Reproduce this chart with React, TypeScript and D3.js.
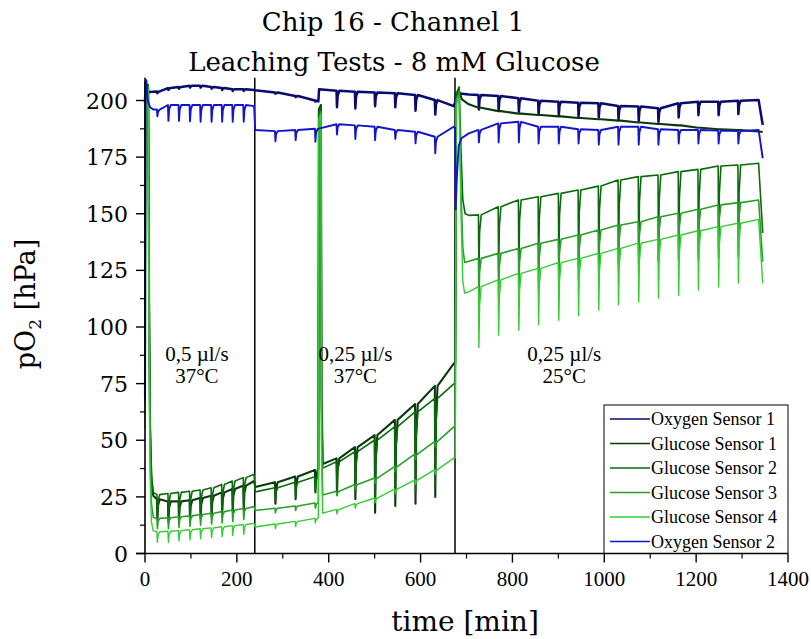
import React from 'react';
import * as d3 from 'd3';

// ---------- data ----------
const xTicks = [0, 200, 400, 600, 800, 1000, 1200, 1400];
const xMinorTicks = [100, 300, 500, 700, 900, 1100, 1300];
const yTicks = [0, 25, 50, 75, 100, 125, 150, 175, 200];
const yMinorTicks = [12.5, 37.5, 62.5, 87.5, 112.5, 137.5, 162.5, 187.5];
const segmentBoundaries = [239, 675];

const seriesNames = ['Oxygen Sensor 1', 'Glucose Sensor 1', 'Glucose Sensor 2', 'Glucose Sensor 3', 'Glucose Sensor 4', 'Oxygen Sensor 2'];
const seriesColors = ['#0b0b6e', '#0a3a0a', '#0a6a0a', '#2a9e2a', '#33cc33', '#1414cc'];

// times (min) of the periodic glucose injections (dips)
const seg1Dips = [26, 50, 73, 97, 120, 144, 167, 190, 214];
const seg2Dips = [283, 327, 370, 417, 457, 500, 544, 588, 631];
const seg3Dips = [726, 769, 813, 856, 900, 943, 987, 1030, 1074, 1117, 1161, 1204, 1248, 1291];

// Oxygen Sensor 1
const o1Level = [204, 205.5, 206, 206.5, 206.5, 206, 205.5, 205, 205,
  203.5, 202, 200, 204.3, 203.9, 203.5, 203.2, 202.4, 200.2,
  202.4, 202, 201, 199.9, 199.5, 199, 198.8, 197.6, 197.3, 196.6, 198.8, 199.5, 199.5, 199.9];
const o1Dip = [203.2, 204.7, 205.2, 205.7, 205.7, 205.2, 204.7, 204.2, 204.2,
  203, 201.5, 199.5, 197, 196.5, 197.5, 197, 195.5, 193.8,
  196, 195.5, 195, 194, 193.5, 193, 192.5, 191.5, 191, 190.5, 192.5, 193.5, 193.5, 194];
const o1Anchors: [number, number][] = [[0, 199], [1.5, 208], [4, 203.5], [10, 203.8], [18, 203.9], [237.5, 204.6], [240, 204.5],
  [377.5, 199.6], [379, 205], [672, 197.5], [675, 199], [677, 203.2], [690, 203], [705, 202.6], [1336, 200.2], [1345, 189.2]];

// Glucose Sensor 1
const g1Level = [24, 23, 23, 23.5, 24.5, 25.5, 27, 28.5, 30,
  31.5, 34, 36.9, 42, 47, 52.3, 59, 66, 74,
  196.8, 195.3, 194.2, 193.6, 193, 192.3, 191.7, 191.1, 190.3, 189.6, 189, 188, 187.3, 186.9];
const g1Dip = [15, 14, 14.5, 15, 15.5, 16.5, 17.5, 18.5, 19.5,
  22, 24, 27, 26, 24, 18, 21, 22, 25,
  196.8, 195.3, 194.2, 193.6, 193, 192.3, 191.7, 191.1, 190.3, 189.6, 189, 188, 187.3, 186.9];
const g1Anchors: [number, number][] = [[0, 70], [1, 206], [7, 206], [9, 110], [11, 55], [14, 32], [18, 25.5], [237.5, 32], [240, 29.4],
  [377.5, 37.5], [378.5, 196], [383, 198], [384.5, 70], [387, 39.5], [673, 84], [675.5, 84], [677.5, 201], [684, 204], [690, 200.5],
  [705, 198.3], [1336, 186.3], [1345, 186.1]];

// Glucose Sensor 2
const g2Level = [26, 26.5, 27, 27.5, 28, 29, 30.5, 32, 33.5,
  29, 31.5, 33.9, 40.5, 45, 50.1, 56, 62.5, 68.5,
  149.5, 153.1, 156.1, 157.5, 159, 160.5, 162.2, 164.9, 166.4, 167.1, 168.6, 169.6, 171.1, 171.5];
const g2Dip = [16, 15, 15.5, 16, 16.5, 17, 18, 19, 20.5,
  23, 25, 28, 28, 27, 22, 25, 27, 30,
  124, 124.5, 125.5, 126, 126.5, 127, 127.5, 128, 128.5, 129, 129.5, 130, 130.5, 131];
const g2Anchors: [number, number][] = [[0, 65], [1, 207], [7, 207], [9, 115], [11, 60], [14, 35], [18, 27], [237.5, 35], [240, 27.2],
  [377.5, 34.5], [378.5, 195], [383, 197], [384.5, 65], [387, 37.7], [673, 75], [675.5, 75], [677.5, 203], [684, 206], [688, 178],
  [692, 156], [697, 150], [705, 149.3], [1336, 172.3], [1345, 141.5]];

// Glucose Sensor 3
const g3Level = [15.5, 15.8, 16.2, 16.6, 17.2, 17.8, 18.5, 19.2, 19.9,
  20, 21, 22.3, 27.5, 30.5, 33.3, 38.5, 44, 49.5,
  130.3, 132.5, 134.7, 137, 138.7, 140.6, 142.8, 145, 146.5, 148.7, 150.2, 152, 153.9, 154.9];
const g3Dip = [11, 11, 11.5, 12, 12.5, 13, 13.5, 14, 15,
  18, 19, 20, 25.5, 28.5, 31, 36, 41.5, 47,
  110, 113, 115, 117, 119, 121, 123, 125, 127, 129, 130.5, 132, 134, 135];
const g3Anchors: [number, number][] = [[0, 60], [1, 206], [7, 206], [9, 100], [11, 45], [14, 22], [18, 16], [237.5, 20.7], [240, 19],
  [377.5, 22.8], [378.5, 192], [383, 195], [384.5, 50], [387, 25.8], [673, 56], [675.5, 56], [677.5, 200], [684, 204], [688, 160],
  [692, 135], [696, 128.5], [705, 129], [1336, 156.1], [1345, 128.8]];

// Glucose Sensor 4
const g4Level = [9.6, 9.8, 10.1, 10.5, 10.9, 11.3, 11.8, 12.3, 12.8,
  13, 14.2, 15.5, 19.5, 22, 24.5, 28.5, 32.5, 37,
  117.8, 120.8, 123.7, 125.9, 128.4, 130.3, 132.5, 134.7, 137, 138.7, 140.6, 142.5, 144.3, 145.8];
const g4Dip = [5, 5, 5.5, 6, 6.5, 7, 7.5, 8, 8.5,
  11, 12, 13.5, 17.5, 20, 22.5, 26.5, 30.5, 35,
  91, 96.5, 98.6, 101, 103, 105, 107.5, 109.7, 111, 112.8, 114, 116.3, 117.7, 119.4];
const g4Anchors: [number, number][] = [[0, 55], [1, 205], [7, 205], [9, 90], [11, 35], [14, 14], [18, 10], [237.5, 13.3], [240, 11.7],
  [377.5, 15.8], [378.5, 190], [383, 194], [384.5, 40], [387, 17.8], [673, 42.2], [675.5, 42.2], [677.5, 198], [684, 202], [688, 150],
  [692, 120], [696, 115], [705, 115.5], [1336, 147.5], [1345, 119.3]];

// Oxygen Sensor 2
const o2Level = [196, 198, 198, 198, 198, 198, 198, 198, 198,
  186.5, 187, 187.5, 189.5, 189, 188.4, 187, 186.2, 184,
  187, 189.9, 190.6, 188.4, 188.4, 187.3, 187, 188.4, 188.4, 187.3, 187, 187, 186.7, 186.5];
const o2Dip = [193, 191, 191, 190.8, 190.6, 190.6, 190.6, 190.6, 190.6,
  182, 182.5, 181.8, 185, 183, 182.5, 183, 181.1, 176.7,
  181.5, 181.5, 181.5, 181, 181, 181, 180.5, 180.5, 180.5, 180.5, 181, 181, 181, 181];
const o2Anchors: [number, number][] = [[0, 68], [1, 204], [3, 209], [6, 200], [11, 197], [18, 196], [237.5, 197.5], [240, 187],
  [672, 188.4], [675, 188], [676.5, 152], [679, 166], [683, 180], [689, 183.3], [705, 185.5], [1336, 187], [1345, 174.5]];

const annotationTimes = [113, 458, 913];
const annotationLines = [['0,5 µl/s', '37°C'], ['0,25 µl/s', '37°C'], ['0,25 µl/s', '25°C']];

// ---------- helpers ----------
const dipTimes = [...seg1Dips, ...seg2Dips, ...seg3Dips];

function buildSeries(anchors: [number, number][], level: number[], dip: number[]): [number, number][] {
  const pts: [number, number][] = anchors.map(a => [a[0], a[1]]);
  dipTimes.forEach((t, i) => {
    const L = level[i];
    const D = dip[i];
    pts.push([t, L], [t + 1, D], [t + 2.5, D + 0.7 * (L - D)], [t + 6, L]);
  });
  pts.sort((a, b) => a[0] - b[0]);
  return pts;
}

const serif = '"DejaVu Serif", serif';
const serif2 = '"Liberation Serif", serif';

export default function App() {
  const x = d3.scaleLinear().domain([0, 1400]).range([145, 788]);
  const y = d3.scaleLinear().domain([0, 210]).range([553.5, 77.85]);
  const line = d3.line<[number, number]>().x(d => x(d[0])).y(d => y(d[1]));

  const data = [
    buildSeries(o1Anchors, o1Level, o1Dip),
    buildSeries(g1Anchors, g1Level, g1Dip),
    buildSeries(g2Anchors, g2Level, g2Dip),
    buildSeries(g3Anchors, g3Level, g3Dip),
    buildSeries(g4Anchors, g4Level, g4Dip),
    buildSeries(o2Anchors, o2Level, o2Dip),
  ];
  const widths = [2.5, 2.1, 1.6, 1.6, 1.4, 1.9];

  const [y0, yTop] = y.range();
  const xL = x.range()[0];
  const xR = x.range()[1];

  const legX = 604, legY = 405, legRow = 24.5;

  return (
    <div>
      <style>{'body{margin:0}'}</style>
      <svg width={811} height={639} style={{ display: 'block', background: '#fff' }}>
        {/* title */}
        <text x={393} y={31} textAnchor="middle" fontFamily={serif} fontSize={26}>Chip 16 - Channel 1</text>
        <text x={394} y={71} textAnchor="middle" fontFamily={serif} fontSize={26}>Leaching Tests - 8 mM Glucose</text>

        {/* segment separators */}
        {segmentBoundaries.map(t => (
          <line key={t} x1={x(t)} x2={x(t)} y1={yTop} y2={y0} stroke="#000" strokeWidth={1.5} />
        ))}

        {/* data */}
        {data.map((pts, i) => (
          <path key={i} d={line(pts) || ''} fill="none" stroke={seriesColors[i]} strokeWidth={widths[i]} strokeLinejoin="round" />
        ))}

        {/* annotations */}
        {annotationTimes.map((t, i) => (
          <g key={i}>
            <text x={x(t)} y={361} textAnchor="middle" fontFamily={serif2} fontSize={21}>{annotationLines[i][0]}</text>
            <text x={x(t)} y={383} textAnchor="middle" fontFamily={serif2} fontSize={21}>{annotationLines[i][1]}</text>
          </g>
        ))}

        {/* legend */}
        <rect x={legX} y={legY} width={xR - legX} height={y0 - legY} fill="#fff" stroke="#000" strokeWidth={1} />
        {seriesNames.map((n, i) => {
          const cy = legY + 14 + i * legRow;
          return (
            <g key={n}>
              <line x1={legX + 6} x2={legX + 46} y1={cy} y2={cy} stroke={seriesColors[i]} strokeWidth={1.4} />
              <text x={legX + 47} y={cy + 6} fontFamily={serif2} fontSize={18}>{n}</text>
            </g>
          );
        })}

        {/* axes */}
        <line x1={xL} x2={xL} y1={yTop} y2={y0} stroke="#000" strokeWidth={1.6} />
        <line x1={xL - 9} x2={xR} y1={y0} y2={y0} stroke="#000" strokeWidth={1.6} />
        {yTicks.map(v => (
          <g key={v}>
            <line x1={xL - 9} x2={xL} y1={y(v)} y2={y(v)} stroke="#000" strokeWidth={1.4} />
            <text x={128} y={y(v) + 8} textAnchor="end" fontFamily={serif} fontSize={22}>{v}</text>
          </g>
        ))}
        {yMinorTicks.map(v => (
          <line key={v} x1={xL - 5} x2={xL} y1={y(v)} y2={y(v)} stroke="#000" strokeWidth={1.2} />
        ))}
        {xTicks.map(v => (
          <g key={v}>
            <line x1={x(v)} x2={x(v)} y1={y0} y2={y0 + 9} stroke="#000" strokeWidth={1.4} />
            <text x={x(v)} y={586} textAnchor="middle" fontFamily={serif2} fontSize={21}>{v}</text>
          </g>
        ))}
        {xMinorTicks.map(v => (
          <line key={v} x1={x(v)} x2={x(v)} y1={y0} y2={y0 + 5} stroke="#000" strokeWidth={1.2} />
        ))}

        {/* axis titles */}
        <text x={465} y={631} textAnchor="middle" fontFamily={serif} fontSize={28}>time [min]</text>
        <text transform="translate(35,304) rotate(-90)" textAnchor="middle" fontFamily={serif} fontSize={27}>
          pO<tspan fontSize={17} dy={6}>2</tspan><tspan dy={-6}> [hPa]</tspan>
        </text>
      </svg>
    </div>
  );
}
